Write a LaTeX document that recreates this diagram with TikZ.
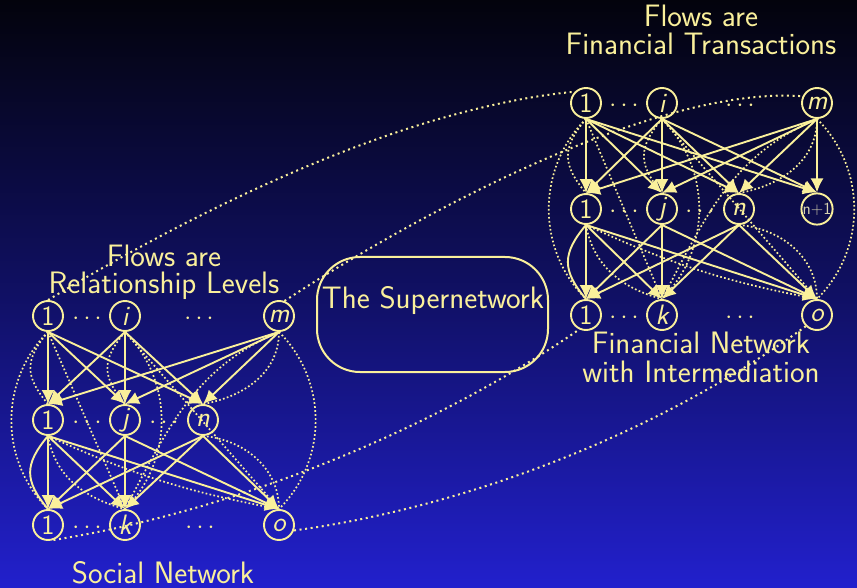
\documentclass[tikz,border=0pt]{standalone}
\usetikzlibrary{arrows.meta}
\definecolor{fg}{RGB}{250,240,155}
\definecolor{fgdim}{RGB}{215,210,175}
\definecolor{bgtop}{RGB}{3,3,12}
\definecolor{bgmid}{RGB}{16,16,100}
\definecolor{bgbot}{RGB}{34,32,205}
\tikzset{
  nd/.style={circle,draw=fg,line width=1.9pt,minimum size=30pt,inner sep=0pt,text=fg,
             font=\fontsize{28}{28}\selectfont\sffamily},
  sol/.style={draw=fg,line width=1.9pt,-{Latex[length=14pt,width=13pt]}},
  solc/.style={draw=fg,line width=1.9pt},
  dt/.style={draw=fg,line width=1.7pt,dash pattern=on 1.7pt off 2.3pt},
  lk/.style={draw=fg,line width=2pt,dash pattern=on 2pt off 3.6pt},
  lbl/.style={text=fg,font=\fontsize{31}{31}\selectfont\sffamily,anchor=base,inner sep=0pt},
  dts/.style={text=fg,font=\fontsize{34}{34}\selectfont,anchor=base,inner sep=0pt}
}
\begin{document}
\begin{tikzpicture}[x=1pt,y=1pt]
\useasboundingbox (0,0) rectangle (857,-588);
\shade[top color=bgtop,bottom color=bgbot,middle color=bgmid] (0,0) rectangle (857,-588);

% ---------- Social network ----------
\node[nd] (St1) at (48,-316) {1};
\node[nd] (Sti) at (125,-316) {\itshape i};
\node[nd] (Stm) at (279,-316) {\itshape m};
\node[nd] (Sm1) at (48,-420) {1};
\node[nd] (Smj) at (125,-420) {\itshape j};
\node[nd] (Smn) at (203,-420) {\itshape n};
\node[nd] (Sb1) at (48,-525) {1};
\node[nd] (Sbk) at (125,-525) {\itshape k};
\node[nd] (Sbo) at (279,-525) {\itshape o};
\node[dts] (Sd1) at (87,-324.5) {$\cdots$};
\node[dts] (Sd2) at (199,-324.5) {$\cdots$};
\node[dts] (Sd3) at (87,-428.5) {$\cdots$};
\node[dts] (Sd4) at (164,-428.5) {$\cdots$};
\node[dts] (Sd5) at (87,-533.5) {$\cdots$};
\node[dts] (Sd6) at (200,-533.5) {$\cdots$};

% ---------- Financial network ----------
\node[nd] (Ft1) at (586,-103) {1};
\node[nd] (Fti) at (662,-103) {\itshape i};
\node[nd] (Ftm) at (817,-103) {\itshape m};
\node[nd] (Fm1) at (586,-209) {1};
\node[nd] (Fmj) at (662,-209) {\itshape j};
\node[nd] (Fmn) at (739,-209) {\itshape n};
\node[nd,text=fgdim,font=\fontsize{17}{17}\selectfont\sffamily] (Fmn1) at (817,-209) {n+1};
\node[nd] (Fb1) at (586,-315) {1};
\node[nd] (Fbk) at (662,-315) {\itshape k};
\node[nd] (Fbo) at (817,-315) {\itshape o};
\node[dts] (Fd1) at (624,-111.5) {$\cdots$};
\node[dts] (Fd2) at (740,-111.5) {$\cdots$};
\node[dts] (Fd3) at (624,-217.5) {$\cdots$};
\node[dts] (Fd4) at (700,-217.5) {$\cdots$};
\node[dts] (Fd5) at (624,-323.5) {$\cdots$};
\node[dts] (Fd6) at (740,-323.5) {$\cdots$};

% ---------- edges of both networks ----------
\foreach \p in {S,F}{
  \foreach \a in {t1,ti,tm}{\foreach \b in {m1,mj,mn}{\draw[sol] (\p\a.south) -- (\p\b.north);}}
  \foreach \a in {m1,mj,mn}{\foreach \b in {b1,bk,bo}{\draw[sol] (\p\a.south) -- (\p\b.north);}}
  \draw[dt] (\p t1.south) to[out=-130,in=130,looseness=1.3] (\p m1.north);
  \draw[dt] (\p t1.south) to[out=-135,in=135] (\p b1.north);
  \draw[dt] (\p t1.south) -- (\p bk.north);
  \draw[dt] (\p ti.south) to[out=-130,in=130,looseness=1.3] (\p mj.north);
  \draw[dt] (\p ti.south) to[out=-45,in=45] (\p bk.north);
  \draw[dt] (\p ti.south) -- (\p bo.north);
  \draw[dt] (\p tm.south) to[out=-90,in=10] (\p mn.north);
  \draw[dt] (\p tm.south) to[out=-157,in=62] (\p bk.north);
  \draw[dt] (\p tm.south) to[out=-45,in=45] (\p bo.north);
  \draw[solc] (\p m1.south) to[out=-130,in=130,looseness=1.3] (\p b1.north);
  \draw[dt] (\p m1.south) to[out=-80,in=165] (\p bk.north);
  \draw[dt] (\p m1.south) to[bend right=7] (\p bo.north);
  \draw[dt] (\p mn.south) to[out=-5,in=90] (\p bo.north);
}
\foreach \a in {t1,ti,tm}{\draw[sol] (F\a.south) -- (Fmn1.north);}

% ---------- supernetwork links ----------
\draw[lk] (St1.north) .. controls (150,-238) and (380,-110) .. (Ft1.135);
\draw[lk] (Stm.70) .. controls (400,-225) and (650,-85) .. (Ftm.155);
\draw[lk] (Sb1.-70) .. controls (230,-512) and (430,-432) .. (Fb1.-115);
\draw[lk] (Sbo.-20) .. controls (450,-510) and (650,-440) .. (Fbo.-135);

% ---------- supernetwork box ----------
\node[draw=fg,line width=2pt,rounded corners=43pt,minimum width=231pt,minimum height=115pt,inner sep=0pt] (sup) at (432.5,-314.5) {};
\node[lbl] (suptxt) at (433,-308) {The Supernetwork};

% ---------- labels ----------
\node[lbl] (fl1) at (701,-27) {Flows are};
\node[lbl] (fl2) at (701,-55) {Financial Transactions};
\node[lbl] (sl1) at (164,-266) {Flows are};
\node[lbl] (sl2) at (164,-293) {Relationship Levels};
\node[lbl] (sn) at (163,-583) {Social Network};
\node[lbl] (fn1) at (701,-353) {Financial Network};
\node[lbl] (fn2) at (701,-382) {with Intermediation};
\end{tikzpicture}
\end{document}
